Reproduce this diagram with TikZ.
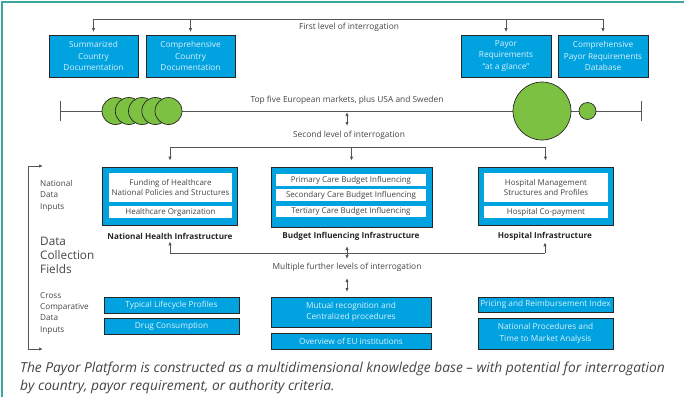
\documentclass[tikz,border=0pt]{standalone}
\usepackage{fontspec}
\setmainfont{Open Sans}
\usetikzlibrary{arrows.meta}
\definecolor{frame}{HTML}{3AA89E}
\definecolor{boxblue}{HTML}{00A3E0}
\definecolor{boxtxt}{HTML}{DDF1FB}
\definecolor{txt}{HTML}{444444}
\definecolor{ln}{HTML}{555555}
\definecolor{grn}{HTML}{7CC142}
\tikzset{
  x=1bp, y=-1bp,
  bbox/.style={draw=black!85, line width=0.7bp, fill=boxblue, text=boxtxt, align=center,
    inner sep=0pt, font=\fontsize{8.3}{11.6}\selectfont},
  obox/.style={draw=black!85, line width=0.7bp, fill=boxblue, inner sep=0pt},
  wbox/.style={fill=white, text=txt, align=center, inner sep=0pt, font=\fontsize{8}{10.8}\selectfont},
  lbl/.style={text=txt, font=\fontsize{8.4}{10}\selectfont, inner sep=0pt},
  blbl/.style={text=black!85, font=\fontsize{8.2}{10}\selectfont\bfseries, inner sep=0pt},
  side/.style={text=txt, align=left, anchor=north west, inner sep=0pt, font=\fontsize{8.2}{11.6}\selectfont},
  capt/.style={text=txt, anchor=base west, inner sep=0pt, font=\fontsize{13.8}{19}\selectfont\itshape},
  conn/.style={draw=ln, line width=0.8bp},
  arr/.style={conn, -{Latex[length=4bp,width=3.4bp]}},
  darr/.style={conn, {Latex[length=4bp,width=3.4bp]}-{Latex[length=4bp,width=3.4bp]}},
  dot/.style={circle, draw=black!85, line width=0.7bp, fill=grn, inner sep=0pt},
}
\begin{document}
\begin{tikzpicture}
\useasboundingbox (0,0) rectangle (684,397);
% frame
\draw[frame, line width=2bp] (2,397) -- (2,2) -- (684,2);

% top row
\node[bbox, minimum width=89bp, minimum height=42bp] (b1) at (93.5,56) {Summarized\\Country\\Documentation};
\node[bbox, minimum width=89bp, minimum height=42bp] (b2) at (190.5,56) {Comprehensive\\Country\\Documentation};
\node[bbox, minimum width=90bp, minimum height=42bp] (b3) at (506,56) {Payor\\Requirements\\“at a glance”};
\node[bbox, minimum width=90bp, minimum height=42bp] (b4) at (603,56) {Comprehensive\\Payor Requirements\\Database};
\coordinate (fl) at (349,19);
\node[lbl] (flt) at (349,27.5) {First level of interrogation};
\draw[conn] (b1.north |- fl) -- (b4.north |- fl);
\foreach \b in {b1,b2,b3,b4} \draw[arr, shorten >=2.5bp] (\b.north |- fl) -- (\b.north);

% timeline
\coordinate (tl) at (60,111);
\coordinate (tr) at (641,111);
\draw[conn] (tl) -- (tr);
\draw[conn] ([yshift=-10bp]tl) -- ([yshift=10bp]tl);
\draw[conn] ([yshift=-10bp]tr) -- ([yshift=10bp]tr);
\foreach \i/\x in {1/115.5,2/128.8,3/142,4/155.3,5/168.5}
  \node[dot, minimum size=27bp] (c\i) at (\x,111) {};
\node[dot, minimum size=58bp] (cb) at (542,111) {};
\node[dot, minimum size=17bp] (cs) at (587.5,111) {};
\node[lbl] (tft) at (347,100) {Top five European markets, plus USA and Sweden};

% second level
\coordinate (sl0) at (347,112);
\coordinate (sl1) at (347,126);
\draw[darr] (sl0) -- (sl1);
\node[lbl] (slt) at (349,135) {Second level of interrogation};
\coordinate (sl) at (347,147);

% middle boxes
\node[obox, minimum width=135bp, minimum height=58bp] (nhi) at (170,196) {};
\node[obox, minimum width=161bp, minimum height=60bp] (bii) at (351.5,197) {};
\node[obox, minimum width=135bp, minimum height=58bp] (hi) at (545.5,196) {};
\node[wbox, minimum width=123bp, minimum height=29bp] (n1) at (170.5,187.5) {Funding of Healthcare\\National Policies and Structures};
\node[wbox, minimum width=123bp, minimum height=12bp] (n2) at (170.5,212) {Healthcare Organization};
\node[wbox, minimum width=150bp, minimum height=12bp] (p1) at (351,180) {Primary Care Budget Influencing};
\node[wbox, minimum width=150bp, minimum height=12bp] (p2) at (351,195) {Secondary Care Budget Influencing};
\node[wbox, minimum width=150bp, minimum height=11bp] (p3) at (351,211.5) {Tertiary Care Budget Influencing};
\node[wbox, minimum width=124bp, minimum height=29bp] (h1) at (546,187.5) {Hospital Management\\Structures and Profiles};
\node[wbox, minimum width=124bp, minimum height=12bp] (h2) at (546,212) {Hospital Co-payment};

\draw[conn] (nhi.north |- sl) -- (hi.north |- sl);
\draw[arr, shorten >=6bp] (nhi.north |- sl) -- (nhi.north);
\draw[arr, shorten >=6bp] (bii.north |- sl) -- (bii.north);
\draw[arr, shorten >=6bp] (hi.north |- sl) -- (hi.north);

\node[blbl] (l1) at (170,236.5) {National Health Infrastructure};
\node[blbl] (l2) at (351,236.5) {Budget Influencing Infrastructure};
\node[blbl] (l3) at (545,236.5) {Hospital Infrastructure};

% further levels
\coordinate (ml) at (347,253);
\draw[conn] (l1.south |- ml) -- (l3.south |- ml);
\draw[arr, shorten >=1.5bp] (l1.south |- ml) -- (l1.south);
\draw[arr, shorten >=1.5bp] (l3.south |- ml) -- (l3.south);
\coordinate (ma0) at (347,246);
\coordinate (ma1) at (347,259);
\draw[darr] (ma0) -- (ma1);
\node[lbl] (mlt) at (347,267.5) {Multiple further levels of interrogation};
\coordinate (mb0) at (347,278);
\coordinate (mb1) at (347,292);
\draw[darr] (mb0) -- (mb1);

% bottom boxes
\node[bbox, minimum width=135bp, minimum height=16bp] (t1) at (171.5,305) {Typical Lifecycle Profiles};
\node[bbox, minimum width=135bp, minimum height=16bp] (t2) at (171.5,326) {Drug Consumption};
\node[bbox, minimum width=160bp, minimum height=30bp] (m1) at (351,312) {Mutual recognition and\\Centralized procedures};
\node[bbox, minimum width=160bp, minimum height=16bp] (m2) at (351,341) {Overview of EU institutions};
\node[bbox, minimum width=135bp, minimum height=15bp] (r1) at (545.5,304.5) {Pricing and Reimbursement Index};
\node[bbox, minimum width=135bp, minimum height=31bp] (r2) at (545.5,333.5) {National Procedures and\\Time to Market Analysis};

% left bracket
\coordinate (lt0) at (28,166);
\coordinate (lt1) at (43,166);
\coordinate (lb0) at (28,349);
\coordinate (lb1) at (43,349);
\draw[conn] (lt0) -- (lb0);
\draw[arr] (lt0) -- (lt1);
\draw[arr] (lb0) -- (lb1);

\node[side] (s1) at (40,180) {National\\Data\\Inputs};
\node[side, font=\fontsize{11.8}{14.2}\selectfont] (s2) at (40,237) {Data\\Collection\\Fields};
\node[side, font=\fontsize{8.2}{11.4}\selectfont] (s3) at (40,292) {Cross\\Comparative\\Data\\Inputs};

% caption
\node[capt] (cap1) at (20,372) {The Payor Platform is constructed as a multidimensional knowledge base – with potential for interrogation};
\node[capt] (cap2) at (20,390) {by country, payor requirement, or authority criteria.};
\end{tikzpicture}
\end{document}
